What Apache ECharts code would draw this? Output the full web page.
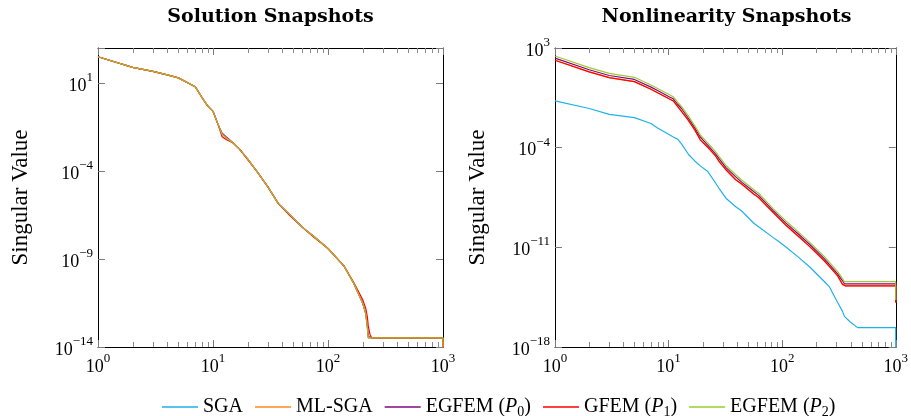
<!DOCTYPE html>
<html><head><meta charset="utf-8">
<script src="https://cdn.jsdelivr.net/npm/echarts@6/dist/echarts.min.js"></script>
<style>html,body{margin:0;padding:0;background:#fff}#c{width:911px;height:416px}</style>
</head><body><div id="c"></div>
<script>
// ---------- data ----------
const seriesNames = ['SGA', 'ML-SGA', 'EGFEM (P0)', 'GFEM (P1)', 'EGFEM (P2)'];
const seriesColors = ['#1eb1ea', '#ff8a1c', '#7f0a80', '#ff0000', '#9acd32'];
const chartTitles = ['Solution Snapshots', 'Nonlinearity Snapshots'];
const yAxisTitle = 'Singular Value';
const minorTickValues = [2,3,4,5,6,7,8,9,20,30,40,50,60,70,80,90,200,300,400,500,600,700,800,900];

// Solution snapshots (left)
const xLeft = [1,2,3,4,5,7,8,9,10,11,12,13,15,17,20,24,30,37,47,60,75,100,138,168,200,213,220,224,232,240,500,999,1000];
const leftEGFEM2 = [3.16e2,7.94e1,4.68e1,2.95e1,2.0e1,6.31,1.58,5.01e-1,2.51e-1,5.01e-2,1.26e-2,7.94e-3,3.98e-3,1.78e-3,5.01e-4,1.0e-4,1.26e-5,1.41e-6,3.16e-7,6.31e-8,2.0e-8,3.98e-9,3.98e-10,3.98e-11,3.16e-12,7.94e-13,1.26e-13,3.31e-14,3.31e-14,3.31e-14,3.31e-14,3.31e-14,1.0e-15];
const leftMLSGA  = [3.16e2,7.94e1,4.68e1,2.95e1,2.0e1,6.31,1.58,5.01e-1,2.51e-1,5.01e-2,1.26e-2,7.94e-3,3.98e-3,1.78e-3,5.01e-4,1.0e-4,1.26e-5,1.41e-6,3.16e-7,6.31e-8,2.0e-8,3.98e-9,3.98e-10,3.98e-11,3.16e-12,7.94e-13,1.26e-13,3.31e-14,3.31e-14,3.31e-14,3.31e-14,3.31e-14,1.0e-15];
const leftSGA    = [3.16e2,7.94e1,4.68e1,2.95e1,2.0e1,6.31,1.58,5.01e-1,2.51e-1,5.01e-2,1.26e-2,7.94e-3,3.98e-3,1.78e-3,5.01e-4,1.0e-4,1.26e-5,1.41e-6,3.16e-7,6.31e-8,2.0e-8,3.98e-9,3.98e-10,3.98e-11,3.16e-12,7.94e-13,1.26e-13,3.31e-14,3.31e-14,3.31e-14,3.31e-14,3.31e-14,1.0e-15];
const leftEGFEM0 = [3.16e2,7.94e1,4.68e1,2.95e1,2.0e1,6.31,1.58,5.01e-1,2.51e-1,5.01e-2,1.41e-2,8.91e-3,3.98e-3,1.78e-3,5.01e-4,1.0e-4,1.26e-5,1.41e-6,3.16e-7,6.31e-8,2.0e-8,3.98e-9,3.98e-10,3.98e-11,3.16e-12,7.94e-13,1.58e-13,3.98e-14,3.31e-14,3.31e-14,3.31e-14,3.31e-14,1.0e-15];
const leftGFEM1  = [3.16e2,7.94e1,4.68e1,2.95e1,2.0e1,6.31,1.58,5.01e-1,2.51e-1,5.01e-2,8.91e-3,6.31e-3,3.98e-3,1.78e-3,4.47e-4,1.0e-4,1.26e-5,1.41e-6,2.82e-7,6.31e-8,1.78e-8,3.98e-9,3.98e-10,4.47e-11,5.01e-12,1.58e-12,5.01e-13,1.58e-13,5.01e-14,3.31e-14,3.31e-14,3.31e-14,1.0e-15];

// Nonlinearity snapshots (right)
const xRight = [1,2,3,5,7,8,10,11,12,13,15,17,19,22,26,28,32,39,44,56,62,83,92,108,138,175,236,261,308,340,353,362,398,461,999,1000];
const rightSGA    = [1.91e-1,5.62e-2,2.19e-2,1.29e-2,5.01e-3,2.4e-3,8.71e-4,5.62e-4,3.98e-4,1.86e-4,3.31e-5,1.17e-5,5.25e-6,2.24e-6,3.16e-7,1.26e-7,2.82e-8,7.08e-9,3.55e-9,5.13e-10,2.82e-10,5.01e-11,2.82e-11,1.07e-11,2.14e-12,4.17e-13,3.8e-14,1.66e-14,1.32e-15,3.16e-16,1.41e-16,1.1e-16,5.75e-17,2.29e-17,2.29e-17,1.0e-19];
const rightMLSGA  = [1.38e2,2.09e1,8.32,4.37,1.26,7.24e-1,2.82e-1,1.91e-1,7.94e-2,3.55e-2,7.94e-3,1.78e-3,3.55e-4,1.12e-4,2.51e-5,1.0e-5,2.82e-6,5.62e-7,2.82e-7,5.62e-8,3.16e-8,2.82e-9,1.26e-9,3.55e-10,6.31e-11,1.12e-11,1.1e-12,4.37e-13,9.77e-14,2.51e-14,1.95e-14,1.95e-14,1.95e-14,1.95e-14,1.95e-14,1.26e-15];
const rightEGFEM0 = [1.95e2,2.95e1,1.17e1,6.17,1.78,1.02,3.98e-1,2.69e-1,1.12e-1,5.62e-2,1.12e-2,2.51e-3,5.62e-4,1.58e-4,3.55e-5,1.58e-5,3.98e-6,8.91e-7,3.8e-7,8.32e-8,4.47e-8,3.89e-9,1.74e-9,5.01e-10,8.91e-11,1.58e-11,1.55e-12,6.17e-13,1.38e-13,4.47e-14,2.75e-14,2.75e-14,2.75e-14,2.75e-14,2.75e-14,1.58e-15];
const rightGFEM1  = [1.38e2,2.09e1,8.32,4.37,1.26,7.24e-1,2.82e-1,1.91e-1,7.94e-2,3.55e-2,7.94e-3,1.78e-3,3.55e-4,1.12e-4,2.51e-5,1.0e-5,2.82e-6,5.62e-7,2.82e-7,5.62e-8,3.16e-8,2.82e-9,1.26e-9,3.55e-10,6.31e-11,1.12e-11,1.1e-12,4.37e-13,9.77e-14,2.51e-14,1.95e-14,1.95e-14,1.95e-14,1.95e-14,1.95e-14,1.26e-15];
const rightEGFEM2 = [2.75e2,4.17e1,1.66e1,8.71,2.51,1.45,5.62e-1,3.8e-1,1.58e-1,7.94e-2,1.58e-2,3.55e-3,7.94e-4,2.24e-4,5.01e-5,2.24e-5,5.62e-6,1.26e-6,5.37e-7,1.17e-7,6.31e-8,5.5e-9,2.45e-9,7.08e-10,1.26e-10,2.24e-11,2.19e-12,8.71e-13,1.95e-13,6.31e-14,3.89e-14,3.89e-14,3.89e-14,3.89e-14,3.89e-14,2.0e-15];

// ---------- chart ----------
const FONT = '"Liberation Serif", "DejaVu Serif", serif';
const TITLE_FONT = '"DejaVu Serif", "Liberation Serif", serif';
const leftYRange = { min: -14, max: 3, step: 5 };
const rightYRange = { min: -18, max: 3, step: 7 };

function expText(e) {
  return '{b|10}{s|' + (e < 0 ? '\u2212' + (-e) : String(e)) + '}';
}
const labelRich = {
  b: { fontSize: 18, fontFamily: FONT, color: '#000', lineHeight: 24, verticalAlign: 'bottom' },
  s: { fontSize: 13, fontFamily: FONT, color: '#000', lineHeight: 9, verticalAlign: 'top' }
};
function toPairs(xs, ys) { return xs.map((x, i) => [x, Math.log10(ys[i])]); }

const grids = [
  { left: 98, top: 48, width: 345, height: 299 },
  { left: 555, top: 48, width: 343, height: 299 }
];

const xAxes = [], yAxes = [];
[0, 1].forEach(g => {
  const base = {
    type: 'log', logBase: 10, min: 1, max: 1000, gridIndex: g,
    axisLine: { show: true, onZero: false, lineStyle: { color: '#000', width: 1 } },
    axisTick: { show: true, inside: true, length: 7, lineStyle: { color: '#7a7a7a', width: 1 } },
    minorTick: { show: false }, splitLine: { show: false }
  };
  xAxes.push(Object.assign({}, base, {
    position: 'bottom',
    axisLabel: { show: true, margin: 5, showMinLabel: true, showMaxLabel: true, hideOverlap: false,
      formatter: v => expText(Math.round(Math.log10(v))), rich: labelRich }
  }));
  xAxes.push(Object.assign({}, base, { position: 'top', axisLabel: { show: false } }));
  const r = g === 0 ? leftYRange : rightYRange;
  const ybase = {
    type: 'value', min: r.min, max: r.max, interval: r.step, gridIndex: g,
    axisLine: { show: true, onZero: false, lineStyle: { color: '#000', width: 1 } },
    axisTick: { show: true, inside: true, length: 7, lineStyle: { color: '#7a7a7a', width: 1 } },
    splitLine: { show: false }
  };
  yAxes.push(Object.assign({}, ybase, {
    position: 'left',
    name: yAxisTitle, nameLocation: 'middle', nameGap: 66,
    nameTextStyle: { fontSize: 23, fontFamily: FONT, color: '#000' },
    axisLabel: { show: true, margin: 5, showMinLabel: true, showMaxLabel: true, hideOverlap: false,
      formatter: v => { const e = Math.round(v); return ((e - r.min) % r.step === 0) ? expText(e) : ''; },
      rich: labelRich }
  }));
  yAxes.push(Object.assign({}, ybase, { position: 'right', axisLabel: { show: false } }));
});

const leftSets = [leftSGA, leftMLSGA, leftEGFEM0, leftGFEM1, leftEGFEM2];
const rightSets = [rightSGA, rightMLSGA, rightEGFEM0, rightGFEM1, rightEGFEM2];
const leftZ = [2, 6, 3, 4, 5];
const leftOpacity = [1, 0.5, 1, 1, 1];

const series = [];
leftSets.forEach((ys, i) => series.push({
  type: 'line', name: seriesNames[i], xAxisIndex: 0, yAxisIndex: 0,
  data: toPairs(xLeft, ys), showSymbol: false, symbol: 'none', clip: true, z: leftZ[i],
  lineStyle: { color: seriesColors[i], width: 1.2, opacity: leftOpacity[i] },
  itemStyle: { color: seriesColors[i] }, animation: false
}));
rightSets.forEach((ys, i) => series.push({
  type: 'line', name: seriesNames[i], xAxisIndex: 2, yAxisIndex: 2,
  data: toPairs(xRight, ys), showSymbol: false, symbol: 'none', clip: true, z: 2 + i,
  lineStyle: { color: seriesColors[i], width: 1.2 },
  itemStyle: { color: seriesColors[i] }, animation: false
}));
// minor log ticks on bottom and top of each plot, positioned through the axes
[0, 1].forEach(g => {
  const r = g === 0 ? leftYRange : rightYRange;
  series.push({
    type: 'custom', xAxisIndex: g * 2, yAxisIndex: g * 2, silent: true, animation: false, z: 10,
    data: minorTickValues.map(v => [v, r.min]),
    renderItem: (params, api) => {
      const p = api.coord([api.value(0), api.value(1)]);
      const cs = params.coordSys;
      const x = Math.round(p[0]) + 0.5;
      const yb = cs.y + cs.height, yt = cs.y;
      return { type: 'group', children: [
        { type: 'line', shape: { x1: x, y1: yb, x2: x, y2: yb - 5 }, style: { stroke: '#8a8a8a', lineWidth: 1 } },
        { type: 'line', shape: { x1: x, y1: yt, x2: x, y2: yt + 5 }, style: { stroke: '#8a8a8a', lineWidth: 1 } }
      ] };
    }
  });
});

const chart = echarts.init(document.getElementById('c'), null, { renderer: 'canvas' });
chart.setOption({
  backgroundColor: '#fff',
  animation: false,
  grid: grids,
  xAxis: xAxes,
  yAxis: yAxes,
  legend: {
    data: seriesNames, left: 157, top: 390, icon: 'rect', itemWidth: 36, itemHeight: 1.5, itemGap: 12,
    textStyle: { fontSize: 20, fontFamily: FONT, color: '#000', lineHeight: 24,
      rich: {
        i: { fontStyle: 'italic', fontSize: 20, fontFamily: FONT, color: '#000' },
        sub: { fontSize: 14, fontFamily: FONT, color: '#000', lineHeight: 14, verticalAlign: 'bottom' }
      } },
    formatter: name => {
      const m = name.match(/^(.*)\((P)(\d)\)$/);
      return m ? m[1] + '({i|P}{sub|' + m[3] + '})' : name;
    }
  },
  graphic: [
    { type: 'text', x: 270.5, y: 17, style: { text: chartTitles[0], font: 'bold 19px ' + TITLE_FONT, fill: '#000', align: 'center', verticalAlign: 'middle' } },
    { type: 'text', x: 726.5, y: 17, style: { text: chartTitles[1], font: 'bold 19px ' + TITLE_FONT, fill: '#000', align: 'center', verticalAlign: 'middle' } }
  ],
  series: series
});
</script>
</body></html>
